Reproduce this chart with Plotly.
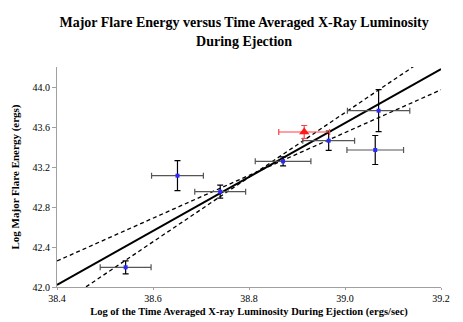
import plotly.graph_objects as go

# observed points (blue)
lum = [38.543, 38.651, 38.740, 38.871, 38.966, 39.070, 39.063]
energy = [42.197, 43.113, 42.953, 43.257, 43.463, 43.763, 43.370]
lum_err = [0.053, 0.054, 0.053, 0.058, 0.054, 0.065, 0.059]
energy_err = [0.065, 0.15, 0.065, 0.045, 0.097, 0.21, 0.145]

# highlighted point (red triangle)
red_lum = [38.915]
red_energy = [43.55]
red_lum_err = [0.053]
red_energy_err = [0.065]

# fit lines: intercept at x=38.4 and slope
fit_x = [38.4, 39.2]
fit_names = ['fit', 'bound1', 'bound2']
fit_icept = [42.02, 42.26, 41.806]
fit_slope = [2.70, 2.14, 3.23]
fit_dash = ['solid', '4px,3px', '4px,3px']
fit_width = [2, 1.3, 1.3]

serif = 'Liberation Serif, Times New Roman, serif'

fig = go.Figure()

for i in range(len(fit_names)):
    ys = [fit_icept[i] + fit_slope[i] * (x - fit_x[0]) for x in fit_x]
    fig.add_trace(go.Scatter(x=fit_x, y=ys, mode='lines', name=fit_names[i],
                             line=dict(color='black', width=fit_width[i], dash=fit_dash[i]),
                             showlegend=False))

fig.add_trace(go.Scatter(
    x=lum, y=energy, mode='markers',
    marker=dict(symbol='square', size=4, color='#2a2aff'),
    error_x=dict(type='data', array=lum_err, color='#555555', thickness=1.2, width=3),
    error_y=dict(type='data', array=energy_err, color='black', thickness=1.2, width=3),
    showlegend=False))

fig.add_trace(go.Scatter(
    x=red_lum, y=red_energy, mode='markers',
    marker=dict(symbol='triangle-up', size=9, color='#ff1a1a'),
    error_x=dict(type='data', array=red_lum_err, color='#ff4040', thickness=1.2, width=3),
    error_y=dict(type='data', array=red_energy_err, color='#ff4040', thickness=1.2, width=3),
    showlegend=False))

fig.update_layout(
    width=463, height=322,
    margin=dict(l=49, r=30, t=59, b=43),
    paper_bgcolor='white', plot_bgcolor='white',
    title=dict(text='Major Flare Energy versus Time Averaged X-Ray Luminosity<br>During Ejection',
               x=0.51, xanchor='center', y=0.94, yanchor='top',
               font=dict(family=serif, size=14, color='black', weight='bold')),
    font=dict(family=serif, color='black'),
)

fig.update_xaxes(range=[38.4, 39.2], tickvals=[38.4, 38.6, 38.8, 39.0, 39.2],
                 ticktext=['38.4', '38.6', '38.8', '39.0', '39.2'],
                 showgrid=False, zeroline=False, showline=True, linecolor='#a0a0a0', linewidth=1,
                 ticks='outside', ticklen=2, tickcolor='#a0a0a0', automargin=False,
                 tickfont=dict(size=10, family=serif),
                 title=dict(text='<b>Log of the Time Averaged X-ray Luminosity During Ejection (ergs/sec)</b>',
                            font=dict(size=10.5, family=serif), standoff=4))

fig.update_yaxes(range=[42.0, 44.2], tickvals=[42.0, 42.4, 42.8, 43.2, 43.6, 44.0],
                 ticktext=['42.0', '42.4', '42.8', '43.2', '43.6', '44.0'],
                 showgrid=False, zeroline=False, showline=True, linecolor='#a0a0a0', linewidth=1,
                 ticks='outside', ticklen=4, tickcolor='#a0a0a0', automargin=False,
                 tickfont=dict(size=10, family=serif),
                 title=dict(text='<b>Log Major Flare Energy (ergs)</b>',
                            font=dict(size=11, family=serif), standoff=10))

fig.write_html("out.html")
